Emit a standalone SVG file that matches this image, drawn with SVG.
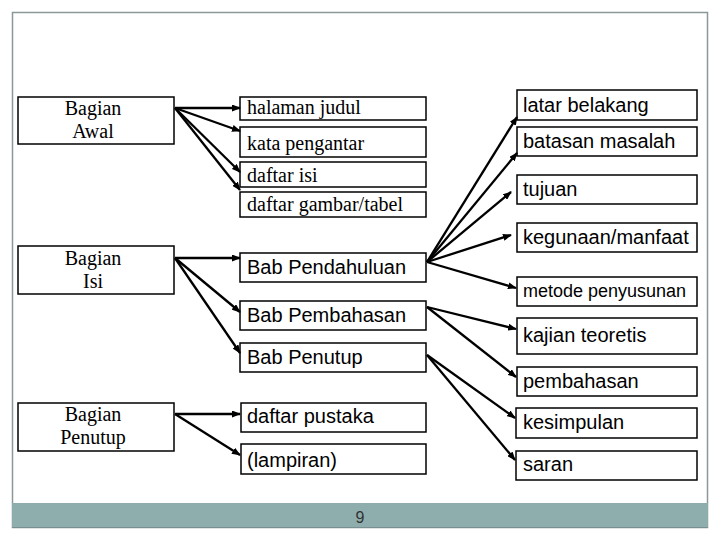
<svg xmlns="http://www.w3.org/2000/svg" width="720" height="540" viewBox="0 0 720 540">
<defs>
<marker id="ah" markerUnits="userSpaceOnUse" markerWidth="9" markerHeight="7" refX="8" refY="3.5" orient="auto">
<path d="M0,0 L9,3.5 L0,7 Z" fill="#000"/>
</marker>
<style>
.box{fill:#fff;stroke:#000;stroke-width:1.5}
.serif{font-family:"Liberation Serif","Times New Roman",serif;font-size:20px;fill:#000}
.sans{font-family:"Liberation Sans",Arial,sans-serif;font-size:20px;fill:#000}
.small{font-size:18px}
.c{text-anchor:middle}
.conn line{stroke:#000;stroke-width:2.3;marker-end:url(#ah)}
</style>
</defs>
<rect x="0" y="0" width="720" height="540" fill="#fff"/>
<rect x="12.5" y="12.5" width="695" height="515" fill="#fff" stroke="#8c9898" stroke-width="1.5"/>
<rect x="12" y="503" width="696" height="25" fill="#8eadad"/>
<line x1="12" y1="527.5" x2="708" y2="527.5" stroke="#7a9090" stroke-width="1"/>
<text x="360" y="523" class="c" font-family="Liberation Sans Narrow,Liberation Sans,sans-serif" font-size="16" fill="#333">9</text>

<g id="bagian-awal"><rect class="box" x="18" y="97" width="156" height="47"/><text class="serif c" x="93" y="115">Bagian</text><text class="serif c" x="93" y="138">Awal</text></g>
<g id="bagian-isi"><rect class="box" x="18" y="246" width="156" height="48"/><text class="serif c" x="93" y="265">Bagian</text><text class="serif c" x="93" y="288">Isi</text></g>
<g id="bagian-penutup"><rect class="box" x="18" y="403" width="156" height="48"/><text class="serif c" x="93" y="421">Bagian</text><text class="serif c" x="93" y="444">Penutup</text></g>

<g id="halaman-judul"><rect class="box" x="240" y="97" width="186" height="23"/><text class="serif" x="247" y="114">halaman judul</text></g>
<g id="kata-pengantar"><rect class="box" x="240" y="127" width="186" height="30"/><text class="serif" x="247" y="150">kata pengantar</text></g>
<g id="daftar-isi"><rect class="box" x="240" y="162" width="186" height="25"/><text class="serif" x="247" y="182">daftar isi</text></g>
<g id="daftar-gambar"><rect class="box" x="240" y="192" width="186" height="25"/><text class="serif" x="247" y="211">daftar gambar/tabel</text></g>

<g id="bab-pendahuluan"><rect class="box" x="240" y="253" width="186" height="29"/><text class="sans" x="247" y="274">Bab Pendahuluan</text></g>
<g id="bab-pembahasan"><rect class="box" x="240" y="301" width="186" height="29"/><text class="sans" x="247" y="322">Bab Pembahasan</text></g>
<g id="bab-penutup"><rect class="box" x="240" y="343" width="186" height="29"/><text class="sans" x="247" y="364">Bab Penutup</text></g>

<g id="daftar-pustaka"><rect class="box" x="241" y="403" width="185" height="29"/><text class="sans" x="247" y="423">daftar pustaka</text></g>
<g id="lampiran"><rect class="box" x="241" y="444" width="185" height="30"/><text class="sans" x="247" y="467">(lampiran)</text></g>

<g id="latar-belakang"><rect class="box" x="517" y="90" width="180" height="30"/><text class="sans" x="523" y="112">latar belakang</text></g>
<g id="batasan-masalah"><rect class="box" x="517" y="127" width="180" height="29"/><text class="sans" x="523" y="148">batasan masalah</text></g>
<g id="tujuan"><rect class="box" x="517" y="175" width="180" height="29"/><text class="sans" x="523" y="196">tujuan</text></g>
<g id="kegunaan"><rect class="box" x="517" y="223" width="180" height="29"/><text class="sans" x="523" y="244">kegunaan/manfaat</text></g>
<g id="metode"><rect class="box" x="517" y="277" width="180" height="29"/><text class="sans small" x="523" y="297">metode penyusunan</text></g>
<g id="kajian"><rect class="box" x="517" y="318" width="180" height="36"/><text class="sans" x="523" y="342">kajian teoretis</text></g>
<g id="pembahasan"><rect class="box" x="517" y="367" width="180" height="29"/><text class="sans" x="523" y="388">pembahasan</text></g>
<g id="kesimpulan"><rect class="box" x="516" y="408" width="181" height="30"/><text class="sans" x="523" y="429">kesimpulan</text></g>
<g id="saran"><rect class="box" x="516" y="451" width="181" height="29"/><text class="sans" x="523" y="471">saran</text></g>

<g id="connectors" class="conn">
<line x1="175" y1="108" x2="240" y2="108"/>
<line x1="175" y1="108" x2="240" y2="131"/>
<line x1="175" y1="108" x2="240" y2="172"/>
<line x1="175" y1="108" x2="240" y2="190"/>
<line x1="175" y1="258" x2="240" y2="258"/>
<line x1="175" y1="258" x2="240" y2="312"/>
<line x1="175" y1="258" x2="240" y2="353"/>
<line x1="175" y1="414" x2="240" y2="414"/>
<line x1="175" y1="414" x2="240" y2="455"/>
<line x1="427" y1="262" x2="517" y2="117"/>
<line x1="427" y1="262" x2="517" y2="153"/>
<line x1="427" y1="262" x2="511" y2="192"/>
<line x1="427" y1="262" x2="511" y2="235"/>
<line x1="427" y1="262" x2="516" y2="288"/>
<line x1="427" y1="307" x2="516" y2="329"/>
<line x1="427" y1="307" x2="516" y2="377"/>
<line x1="427" y1="355" x2="515" y2="418"/>
<line x1="427" y1="355" x2="515" y2="460"/>
</g>
</svg>
